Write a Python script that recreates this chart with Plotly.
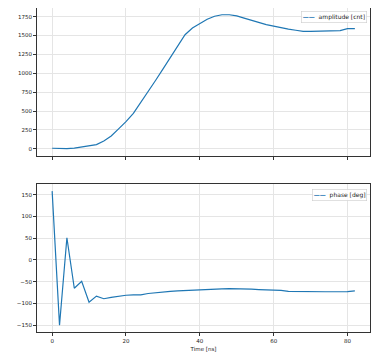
import plotly.graph_objects as go
from plotly.subplots import make_subplots

time_ns = list(range(0, 84, 2))
amplitude = [8, 2, 3, 10, 25, 42, 57, 105, 170, 265, 360, 470, 610, 760, 905,
             1055, 1210, 1370, 1510, 1600, 1660, 1715, 1755, 1775, 1775, 1760,
             1730, 1700, 1670, 1645, 1625, 1600, 1585, 1570, 1555, 1555, 1558,
             1560, 1560, 1565, 1590, 1590]
phase = [158, -150, 51, -65, -49, -97, -83, -89, -86, -83, -81, -80, -80, -77,
         -75, -73, -72, -71, -70, -69, -68, -67.5, -67, -66.5, -66, -66, -66.5,
         -67, -68, -68.5, -69, -70, -72, -72.5, -73, -73, -73, -73, -73, -73,
         -72.5, -71]
series_names = ["amplitude [cnt]", "phase [deg]"]

C = "#1f77b4"
FONT = "DejaVu Sans"

fig = make_subplots(rows=2, cols=1, shared_xaxes=True, vertical_spacing=0.089)
fig.add_trace(go.Scatter(x=time_ns, y=amplitude, mode="lines", name=series_names[0],
                         line=dict(color=C, width=1.2)), row=1, col=1)
fig.add_trace(go.Scatter(x=time_ns, y=phase, mode="lines", name=series_names[1],
                         line=dict(color=C, width=1.2)), row=2, col=1)

ax = dict(showline=True, linecolor="#333", linewidth=1, mirror=True,
          ticks="outside", ticklen=3, tickcolor="#333", tickwidth=0.8,
          showgrid=True, gridcolor="#e5e5e5", gridwidth=0.8, zeroline=False,
          automargin=False, tickfont=dict(size=5.5, color="#222"))
fig.update_xaxes(**ax, range=[-4.1, 86.1], tickvals=[0, 20, 40, 60, 80])
fig.update_xaxes(title=dict(text="Time [ns]", font=dict(size=5.5, color="#222"), standoff=4),
                 row=2, col=1)
fig.update_yaxes(**ax)
fig.update_yaxes(range=[-89, 1864], tickvals=[0, 250, 500, 750, 1000, 1250, 1500, 1750],
                 row=1, col=1)
fig.update_yaxes(range=[-165.4, 173.4], tickvals=[-150, -100, -50, 0, 50, 100, 150],
                 row=2, col=1)

# matplotlib-like compact legend boxes (plotly's legend rows are too tall here)
for name, ytop in zip(series_names, [0.991, 0.441]):
    fig.add_annotation(
        xref="paper", yref="paper", x=0.992, y=ytop, xanchor="right", yanchor="top",
        text=f"<span style='color:{C}'><b>——</b></span>  {name}", showarrow=False,
        font=dict(size=6, color="#222"), align="left",
        bgcolor="rgba(255,255,255,0.85)", bordercolor="#ccc", borderwidth=0.6, borderpad=1.2,
    )

# page body adds 8px, so the figure itself is 8px smaller each way
fig.update_layout(
    width=379, height=354,
    margin=dict(l=29, r=17, t=0, b=30),
    plot_bgcolor="white", paper_bgcolor="white",
    font=dict(family=FONT),
    showlegend=False,
)
fig.write_html("out.html")
